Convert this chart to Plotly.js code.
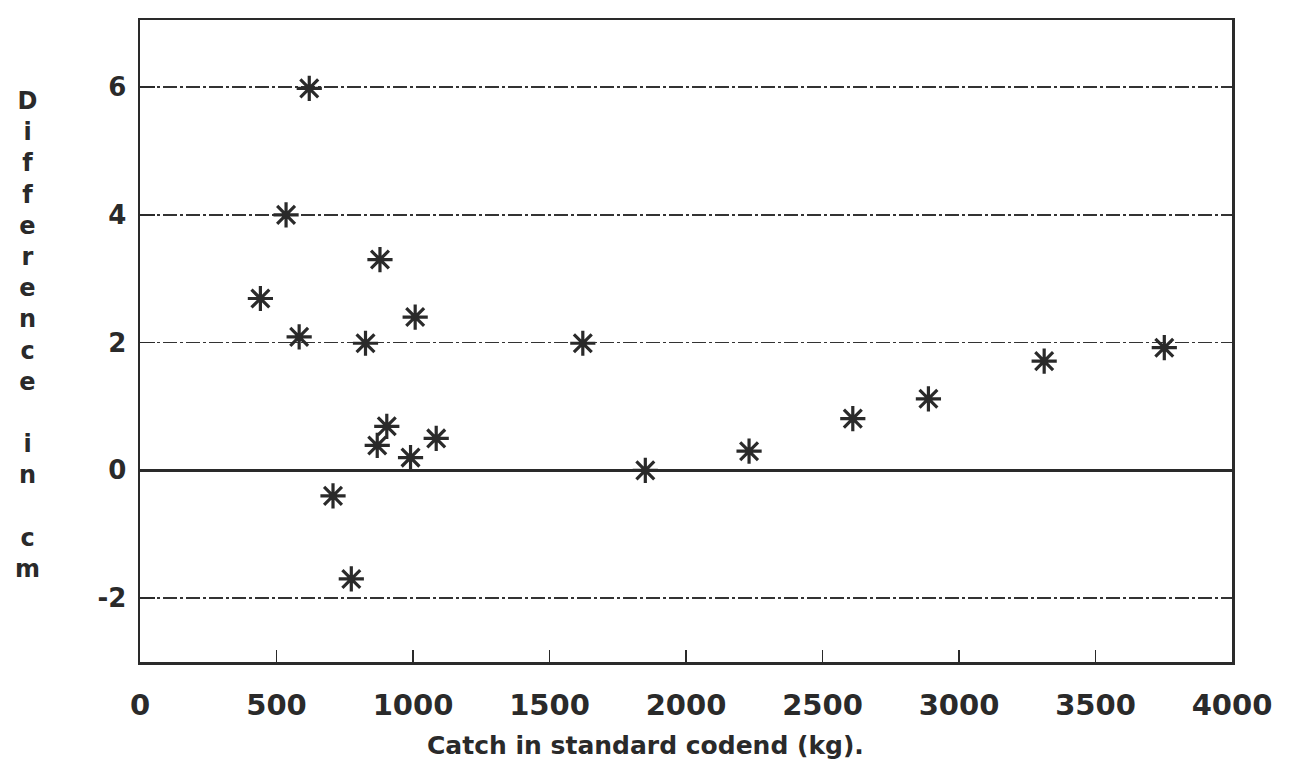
<!DOCTYPE html>
<html>
<head>
<meta charset="utf-8">
<script src="https://cdn.plot.ly/plotly-3.0.1.min.js"></script>
<style>html,body{margin:0;padding:0;background:#fff;}#chart{width:1289px;height:776px;}</style>
</head>
<body>
<div id="chart"></div>
<script>
const catchKg = [620, 535, 441, 583, 879, 1008, 826, 1622, 904, 869, 991, 1085, 707, 774, 1851, 2231, 2611, 2888, 3312, 3752];
const diffCm  = [5.98, 4.0, 2.69, 2.09, 3.30, 2.40, 1.99, 1.99, 0.69, 0.39, 0.20, 0.50, -0.40, -1.70, 0.0, 0.30, 0.81, 1.12, 1.71, 1.92];
const xTicks = [0, 500, 1000, 1500, 2000, 2500, 3000, 3500, 4000];
const yTicks = [-2, 0, 2, 4, 6];

const ink = '#2a2a2a';
const font = 'DejaVu Sans, Liberation Sans, Arial, sans-serif';

const trace = {
  x: catchKg, y: diffCm, type: 'scatter', mode: 'markers',
  marker: {symbol: 'asterisk-open', size: 21, color: ink, line: {color: ink, width: 3.2}},
  hoverinfo: 'x+y', showlegend: false
};

const layout = {
  width: 1289, height: 776,
  margin: {l: 140, r: 57, t: 20, b: 114},
  paper_bgcolor: '#fff', plot_bgcolor: '#fff',
  font: {family: font, color: ink},
  xaxis: {
    range: [0, 4000], tickvals: xTicks, ticktext: xTicks.map(String),
    showgrid: false, zeroline: false,
    showline: true, linecolor: ink, linewidth: 2.5, mirror: true,
    ticks: 'inside', ticklen: 12, tickwidth: 1.5, tickcolor: ink,
    ticklabelstandoff: 16,
    tickfont: {family: font, size: 29, color: ink, weight: 'bold'}
  },
  yaxis: {
    range: [-3, 7.05], tickvals: yTicks, ticktext: yTicks.map(v => v < 0 ? '-' + Math.abs(v) : String(v)),
    showgrid: true, gridcolor: '#333', gridwidth: 1.6, griddash: '14px,3px,3px,3px',
    zeroline: true, zerolinecolor: ink, zerolinewidth: 3,
    showline: true, linecolor: ink, linewidth: 2.5, mirror: true,
    ticks: 'inside', ticklen: 15, tickwidth: 1.5, tickcolor: ink,
    ticklabelstandoff: 6,
    tickfont: {family: font, size: 26, color: ink, weight: 'bold'}
  },
  annotations: [{
    xref: 'paper', yref: 'paper', x: -0.103, y: 0.51, xanchor: 'center', yanchor: 'middle',
    showarrow: false, align: 'center',
    text: 'D<br>i<br>f<br>f<br>e<br>r<br>e<br>n<br>c<br>e<br> <br>i<br>n<br> <br>c<br>m',
    font: {family: font, size: 24, color: ink, weight: 'bold'}
  }, {
    xref: 'paper', yref: 'paper', x: 0.4625, y: -0.13, xanchor: 'center', yanchor: 'middle',
    showarrow: false,
    text: 'Catch in standard codend (kg).',
    font: {family: font, size: 25, color: ink, weight: 'bold'}
  }]
};

Plotly.newPlot('chart', [trace], layout, {displayModeBar: false, staticPlot: true});
</script>
</body>
</html>
